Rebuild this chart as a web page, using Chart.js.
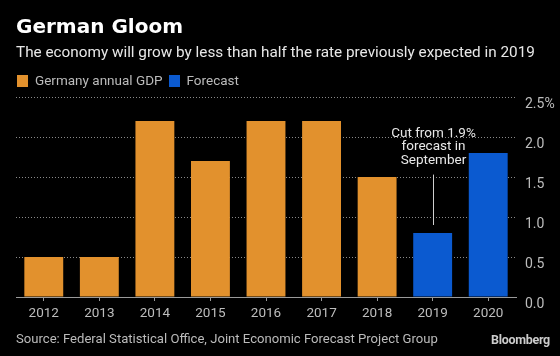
<!DOCTYPE html>
<html>
<head>
<meta charset="utf-8">
<script src="https://cdn.jsdelivr.net/npm/chart.js@4.4.1/dist/chart.umd.min.js"></script>
<style>
  html, body { margin:0; padding:0; background:#000; }
  #wrap { position:relative; width:560px; height:356px; overflow:hidden; background:#000; font-family: Roboto, "Open Sans", sans-serif; }
  #c { position:absolute; left:0; top:0; }
  .t { position:absolute; white-space:nowrap; }
  #title { left:16px; top:14px; font-family:"DejaVu Sans", sans-serif; font-size:20px; font-weight:700; color:#fff; }
  #sub { left:16px; top:43px; font-size:15.3px; color:#e8e8e8; }
  #legend { left:17px; top:72px; font-size:13.5px; color:#bbb; }
  .sw { display:inline-block; width:11px; height:12px; vertical-align:-2px; margin-right:7px; }
  .li { margin-right:6px; }
  #src { left:16px; top:331px; font-size:13.1px; color:#bbb; }
  #bbg { left:491px; top:332px; font-size:12.5px; font-weight:700; color:#ccc; letter-spacing:-0.3px; }
</style>
</head>
<body>
<div id="wrap">
  <canvas id="c" width="560" height="356"></canvas>
  <div class="t" id="title">German Gloom</div>
  <div class="t" id="sub">The economy will grow by less than half the rate previously expected in 2019</div>
  <div class="t" id="legend"><span class="li"><span class="sw" style="background:#e2912d"></span>Germany annual GDP</span><span class="li"><span class="sw" style="background:#0b5ad0"></span>Forecast</span></div>
  <div class="t" id="src">Source: Federal Statistical Office, Joint Economic Forecast Project Group</div>
  <div class="t" id="bbg">Bloomberg</div>
</div>
<script>
const categories = ['2012','2013','2014','2015','2016','2017','2018','2019','2020'];
const gdpValues = [0.5, 0.5, 2.2, 1.7, 2.2, 2.2, 1.5, 0.8, 1.8];
const isForecast = [false, false, false, false, false, false, false, true, true];
const yTicks = [0, 0.5, 1.0, 1.5, 2.0, 2.5];
const annotationLines = ['Cut from 1.9%', 'forecast in', 'September'];
const annotationCategory = '2019';
const annotationFrom = 1.53;
const annotationTo = 0.9;

const ORANGE = '#e2912d', BLUE = '#0b5ad0';

const annotationPlugin = {
  id: 'cutNote',
  afterDatasetsDraw(chart) {
    const {ctx, scales:{x, y}} = chart;
    const px = Math.round(x.getPixelForValue(categories.indexOf(annotationCategory))) + 0.5;
    const y1 = y.getPixelForValue(annotationFrom);
    const y2 = y.getPixelForValue(annotationTo);
    ctx.save();
    ctx.strokeStyle = '#cfcfcf';
    ctx.lineWidth = 1;
    ctx.beginPath(); ctx.moveTo(px, y1); ctx.lineTo(px, y2); ctx.stroke();
    ctx.fillStyle = '#e8e8e8';
    ctx.font = '13.5px Roboto, "Open Sans", sans-serif';
    ctx.textAlign = 'center';
    ctx.textBaseline = 'middle';
    annotationLines.forEach((l, i) => {
      ctx.fillText(l, px, y1 - 41 + i * 13.5);
    });
    ctx.restore();
  }
};

new Chart(document.getElementById('c'), {
  type: 'bar',
  data: {
    labels: categories,
    datasets: [{
      data: gdpValues,
      backgroundColor: isForecast.map(f => f ? BLUE : ORANGE),
      borderWidth: 0,
      categoryPercentage: 1,
      barPercentage: 0.7
    }]
  },
  options: {
    responsive: false,
    animation: false,
    devicePixelRatio: 1,
    layout: { padding: { left: 16, top: 97, right: 0, bottom: 0 } },
    plugins: { legend: { display: false }, tooltip: { enabled: false }, title: { display: false } },
    scales: {
      x: {
        grid: { display: true, drawOnChartArea: false, drawTicks: true, tickLength: 4, offset: false, color: '#9a9a9a' },
        border: { display: true, color: '#9a9a9a', width: 1 },
        ticks: { color: '#bdbdbd', font: { family: 'Roboto, "Open Sans", sans-serif', size: 13.5 }, padding: 5, maxRotation: 0 },
        afterFit(s) { s.height = 59; }
      },
      y: {
        position: 'right',
        min: 0, max: 2.5,
        afterBuildTicks(s) { s.ticks = yTicks.map(v => ({ value: v })); },
        grid: { color: '#8a8a8a', drawTicks: false, tickLength: 0, lineWidth: 1 },
        border: { display: false, dash: [1, 2] },
        ticks: {
          color: '#bdbdbd', padding: 9, align: 'start',
          font: { family: 'Roboto, "Open Sans", sans-serif', size: 14 },
          callback(v) { return v === 2.5 ? v.toFixed(1) + '%' : v.toFixed(1); }
        },
        afterFit(s) { s.width = 44; }
      }
    }
  },
  plugins: [annotationPlugin]
});
</script>
</body>
</html>
